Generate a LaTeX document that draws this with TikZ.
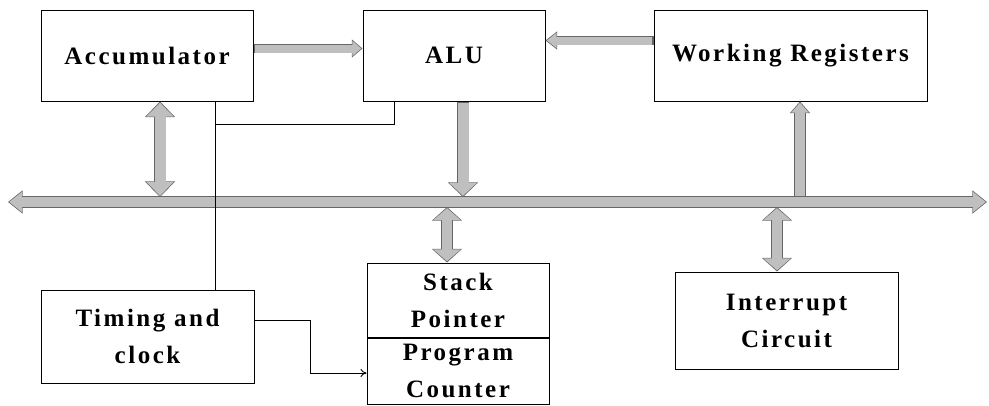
\documentclass[tikz,border=0pt]{standalone}
\usepackage{fontspec}
\setmainfont{Liberation Serif}[LetterSpace=10]
\usetikzlibrary{arrows.meta,calc}
\tikzset{
  block/.style={draw, line width=1pt, align=center, inner sep=0pt,
    font=\bfseries\fontsize{25}{37}\selectfont},
  wire/.style={line width=0.9pt, black},
}
% Syntax: \fatarrow[tips]{shaft width}{head width}{head length}{path}
\newcommand{\fatarrow}[5][->]{
\pgfmathsetlengthmacro{\shaftin}{#2}
\pgfmathsetlengthmacro{\shaftout}{#2+1.6pt}
\pgfmathsetlengthmacro{\headw}{#3}
\pgfmathsetlengthmacro{\headwout}{#3+2.4pt}
\pgfmathsetlengthmacro{\headl}{#4}
\pgfmathsetlengthmacro{\headlout}{#4+1.6pt}
\draw[#1, >={Triangle[width=\headwout,length=\headlout]}, line width=\shaftout, black!60] #5;
\draw[#1, >={Triangle[width=\headw,length=\headl]}, line width=\shaftin, gray!50,
  shorten >=1.2pt, shorten <=1.2pt] #5;
}

\begin{document}
\begin{tikzpicture}[x=1pt, y=-1pt]
\useasboundingbox (0,0) rectangle (989,405);

% blocks
\node[block, minimum width=212pt, minimum height=91pt] (acc) at (147,55.5) {Accumulator};
\node[block, minimum width=182pt, minimum height=91pt] (alu) at (454,55.5) {ALU};
\node[block, minimum width=273pt, minimum height=91pt] (wreg) at (790.5,55.5) {Working Registers};
\node[block, minimum width=213pt, minimum height=93pt] (timing) at (147.5,336.5) {Timing and\\clock};
\node[block, minimum width=182pt, minimum height=74pt] (stack) at (458,300) {Stack\\Pointer};
\node[block, minimum width=182pt, minimum height=66pt, anchor=north] (prog) at (stack.south) {Program\\Counter};
\node[block, minimum width=223pt, minimum height=97pt] (intr) at (786.5,320.5) {Interrupt\\Circuit};

% system bus
\coordinate (busL) at (8,202);
\coordinate (busR) at (987,202);
\fatarrow[<->]{10pt}{20pt}{13pt}{(busL) -- (busR)}

% taps on the bus
\coordinate (accbus) at (160,197);
\coordinate (alubus) at (463,197);
\coordinate (wregbus) at (800,197);
\coordinate (stackbus) at (447,207);
\coordinate (intrbus) at (777,207);

\fatarrow{8pt}{15pt}{9pt}{([yshift=7pt]acc.east) -- ([yshift=7pt]alu.west)}
\fatarrow{8pt}{15pt}{10pt}{([yshift=15pt]wreg.west) -- ([yshift=15pt]alu.east)}
\fatarrow[<->]{11pt}{27pt}{14pt}{(acc.south -| accbus) -- (accbus)}
\fatarrow{11pt}{27pt}{13pt}{(alu.south -| alubus) -- (alubus)}
\fatarrow{10pt}{17pt}{10pt}{(wregbus) -- (wreg.south -| wregbus)}
\fatarrow[<->]{10pt}{27pt}{12pt}{(stackbus) -- (stack.north -| stackbus)}
\fatarrow[<->]{10pt}{27pt}{12pt}{(intrbus) -- (intr.north -| intrbus)}

% control lines
\coordinate (ctl) at (215,124);
\draw[wire] (acc.south -| ctl) -- (timing.north -| ctl);
\draw[wire] (ctl) -| ([xshift=-60pt]alu.south);
\draw[wire, -{To[length=6pt,width=8pt]}] ([yshift=16.5pt]timing.east) -- ++(56,0) |- ([yshift=-2pt]prog.west);
\end{tikzpicture}
\end{document}
